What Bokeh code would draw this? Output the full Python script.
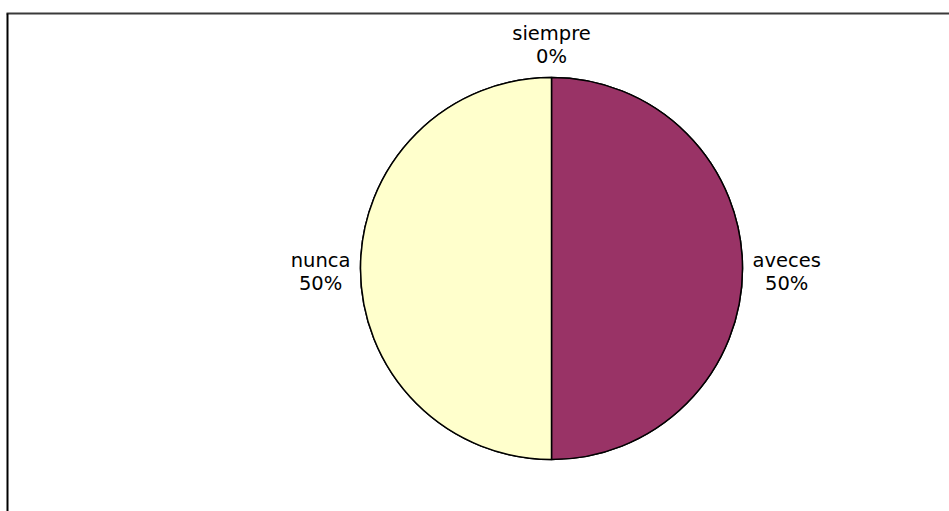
import math
from bokeh.plotting import figure
from bokeh.models import Range1d, ColumnDataSource
from bokeh.core.properties import value
from bokeh.embed import file_html
from bokeh.resources import INLINE

categories = ["siempre", "aveces", "nunca"]
values = [0, 50, 50]
colors = ["#3366CC", "#993366", "#FFFFCC"]

W, H = 949, 511
FS = 19.5
LINE = 23
BASE_FIX = 7  # compensate renderer baseline offset

# approximate DejaVu Sans advance widths (em) for label layout
ADV = {"a": .613, "c": .550, "e": .615, "i": .278, "m": .974, "n": .634,
       "p": .635, "r": .411, "s": .521, "u": .634, "v": .592, "%": .950}
def text_w(t):
    return sum(ADV.get(ch, .636) for ch in t) * FS

p = figure(width=W, height=H, output_backend="svg", toolbar_location=None,
           x_range=Range1d(0, W), y_range=Range1d(0, H), min_border=0)
p.axis.visible = False
p.grid.visible = False
p.outline_line_color = None
p.background_fill_color = "white"
p.border_fill_color = "white"

# frame lines (open frame cut at right/bottom)
p.line(x=[6, W], y=[H - 13, H - 13], line_color="#3a3a3a", line_width=2)
p.line(x=[7, 7], y=[H - 13, 0], line_color="#000000", line_width=2)

cx, cy, r = 551, H - 268, 191
total = float(sum(values))
starts, ends, mids = [], [], []
a = math.pi / 2
for v in values:
    span = 2 * math.pi * v / total
    starts.append(a - span)
    ends.append(a)
    mids.append(a - span / 2)
    a -= span

src = ColumnDataSource(dict(start=starts, end=ends, color=colors))
p.wedge(x=cx, y=cy, radius=r, start_angle="start", end_angle="end",
        fill_color="color", line_color="black", line_width=1.5, source=src)

tx, ty, tt = [], [], []
for cat, v, m in zip(categories, values, mids):
    pct = f"{round(100 * v / total)}%"
    c, s = math.cos(m), math.sin(m)
    w = max(text_w(cat), text_w(pct))
    if abs(c) > 0.2:
        ax = cx + (r + 10) * c
        ay = cy + (r + 10) * s
        bx = ax + (w / 2 if c > 0 else -w / 2)
        name_y = ay + 1
        pct_y = name_y - LINE
    else:
        bx = cx + (r + 14) * c
        pct_y = cy + (r + 14) * s
        name_y = pct_y + LINE
    tx += [bx, bx]
    ty += [name_y + BASE_FIX, pct_y + BASE_FIX]
    tt += [cat, pct]

lsrc = ColumnDataSource(dict(x=tx, y=ty, text=tt))
p.text(x="x", y="y", text="text", text_align="center", text_baseline="alphabetic",
       text_font=value("DejaVu Sans"), text_font_size=f"{FS}px", text_color="black",
       source=lsrc)

open("out.html", "w").write(file_html(p, INLINE))
